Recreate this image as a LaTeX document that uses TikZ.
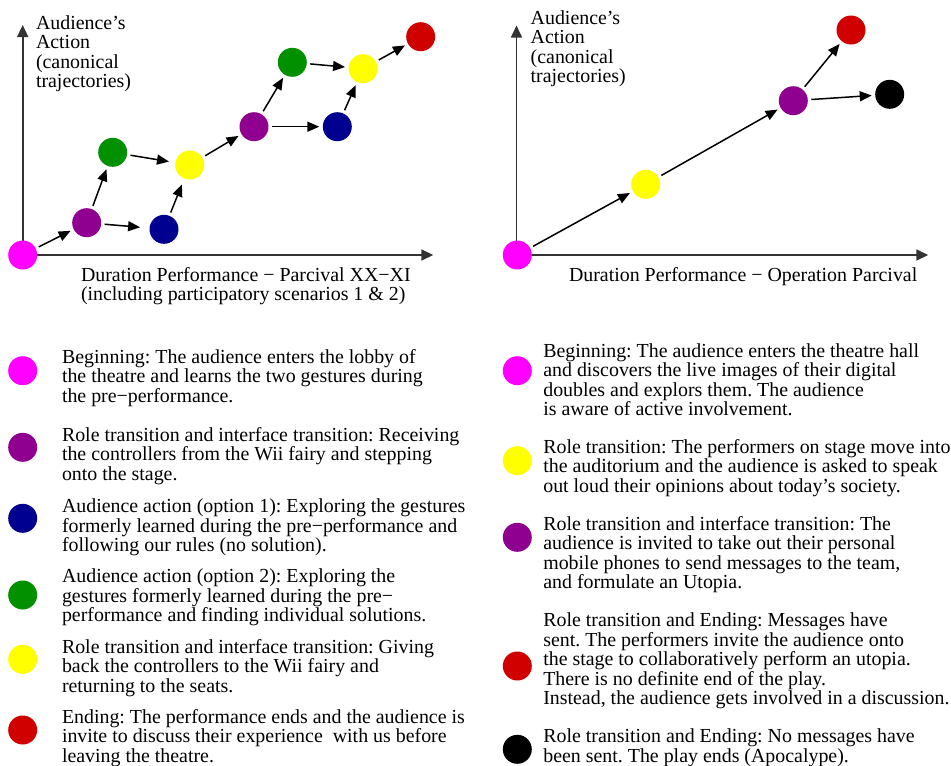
\documentclass[tikz,border=0pt]{standalone}
\usepackage{fontspec}
\setmainfont{Liberation Serif}
\usetikzlibrary{arrows.meta}
\frenchspacing

% fill colours of the stage markers
\definecolor{cMag}{RGB}{255,0,255}
\definecolor{cPur}{RGB}{144,0,144}
\definecolor{cBlu}{RGB}{0,0,144}
\definecolor{cGrn}{RGB}{0,144,0}
\definecolor{cYel}{RGB}{255,255,0}
\definecolor{cRed}{RGB}{208,0,0}

% a left-aligned block of lines whose reference point is the first baseline
\newcommand\txtlines[1]{\parbox[t]{430pt}{\lineskiplimit=-20pt\raggedright #1}}

\begin{document}
\begin{tikzpicture}[x=1pt,y=-1pt,
  dot/.style={circle, inner sep=0pt, minimum size=29pt, outer sep=3.5pt},
  conn/.style={-{Triangle[length=12pt,width=10pt]}, line width=1.5pt},
  axis/.style={-{Triangle[length=12pt,width=11pt]}, line width=1.6pt, black!80},
  lbl/.style={anchor=base west, inner sep=0pt, outer sep=0pt,
              font=\fontsize{19.9pt}{19.5pt}\selectfont}]
\useasboundingbox (0,0) rectangle (951,766);

% ---------- left chart: Parcival XX-XI ----------
\coordinate (LO) at (22.7,255);
\coordinate (LY) at (22.7,25);
\coordinate (LX) at (433.3,255);
\draw[axis] (LO) -- (LY);
\draw[axis] (LO) -- (LX);

\node[lbl] (lyl) at (36,29.3) {\txtlines{Audience’s\\Action\\(canonical\\trajectories)}};
\node[lbl] (lxl) at (81,281) {\txtlines{Duration Performance − Parcival XX−XI\\(including participatory scenarios 1 \& 2)}};

\node[dot, fill=cMag] (a0) at (22.7,255) {};
\node[dot, fill=cPur] (p1) at (86.7,222.7) {};
\node[dot, fill=cBlu] (b1) at (164,229.3) {};
\node[dot, fill=cGrn] (g1) at (112.7,152.3) {};
\node[dot, fill=cYel] (y1) at (189.7,165) {};
\node[dot, fill=cPur] (p2) at (254,126.7) {};
\node[dot, fill=cBlu] (b2) at (337.3,126.7) {};
\node[dot, fill=cGrn] (g2) at (292.3,62.3) {};
\node[dot, fill=cYel] (y2) at (363,68.7) {};
\node[dot, fill=cRed] (r1) at (420.7,36.7) {};

\draw[conn] (a0) -- (p1);
\draw[conn, shorten >=6pt] (p1) -- (b1);
\draw[conn] (p1) -- (g1);
\draw[conn, shorten >=3pt] (g1) -- (y1);
\draw[conn, shorten >=3pt] (b1) -- (y1);
\draw[conn] (y1) -- (p2);
\draw[conn] (p2) -- (b2);
\draw[conn] (p2) -- (g2);
\draw[conn] (g2) -- (y2);
\draw[conn] (b2) -- (y2);
\draw[conn] (y2) -- (r1);

% ---------- right chart: Operation Parcival ----------
\coordinate (RO) at (516.5,255);
\coordinate (RY) at (516.5,25.5);
\coordinate (RX) at (928.3,255);
\draw[axis] (RO) -- (RY);
\draw[axis] (RO) -- (RX);

\node[lbl] (ryl) at (530.7,24) {\txtlines{Audience’s\\Action\\(canonical\\trajectories)}};
\node[lbl] (rxl) at (569,281.5) {\txtlines{Duration Performance − Operation Parcival}};

\node[dot, fill=cMag] (c0) at (517.3,255) {};
\node[dot, fill=cYel] (c1) at (645.7,184.3) {};
\node[dot, fill=cPur] (c2) at (793.3,100.7) {};
\node[dot, fill=cRed] (c3) at (851,30) {};
\node[dot, fill=black] (c4) at (889.7,94.3) {};

\draw[conn] (c0) -- (c1);
\draw[conn] (c1) -- (c2);
\draw[conn] (c2) -- (c3);
\draw[conn] (c2) -- (c4);

% ---------- left legend ----------
\node[dot, fill=cMag] (lk1) at (22.7,370.7) {};
\node[dot, fill=cPur] (lk2) at (22.7,447.3) {};
\node[dot, fill=cBlu] (lk3) at (22.7,518.3) {};
\node[dot, fill=cGrn] (lk4) at (22.7,595) {};
\node[dot, fill=cYel] (lk5) at (22.7,659.3) {};
\node[dot, fill=cRed] (lk6) at (22.7,730) {};

\node[lbl] (lt1) at (62,363.3) {\txtlines{Beginning: The audience enters the lobby of\\the theatre and learns the two gestures during\\the pre−performance.}};
\node[lbl] (lt2) at (62,441) {\txtlines{Role transition and interface transition: Receiving\\the controllers from the Wii fairy and stepping\\onto the stage.}};
\node[lbl] (lt3) at (62,512.7) {\txtlines{Audience action (option 1): Exploring the gestures\\formerly learned during the pre−performance and\\following our rules (no solution).}};
\node[lbl] (lt4) at (62,582.7) {\txtlines{Audience action (option 2): Exploring the\\gestures formerly learned during the pre−\\performance and finding individual solutions.}};
\node[lbl] (lt5) at (62,653.3) {\txtlines{Role transition and interface transition: Giving\\back the controllers to the Wii fairy and\\returning to the seats.}};
\node[lbl] (lt6) at (62,723.3) {\txtlines{Ending: The performance ends and the audience is\\invite to discuss their experience~ with us before\\leaving the theatre.}};

% ---------- right legend ----------
\node[dot, fill=cMag] (rk1) at (517.3,370.7) {};
\node[dot, fill=cYel] (rk2) at (517.3,460.7) {};
\node[dot, fill=cPur] (rk3) at (517.3,537.3) {};
\node[dot, fill=cRed] (rk4) at (517.3,666) {};
\node[dot, fill=black] (rk5) at (517.3,749.3) {};

\node[lbl] (rt1) at (543.3,357.3) {\txtlines{Beginning: The audience enters the theatre hall\\and discovers the live images of their digital\\doubles and explors them. The audience\\is aware of active involvement.}};
\node[lbl] (rt2) at (543.3,453.3) {\txtlines{Role transition: The performers on stage move into\\the auditorium and the audience is asked to speak\\out loud their opinions about today’s society.}};
\node[lbl] (rt3) at (543.3,530) {\txtlines{Role transition and interface transition: The\\audience is invited to take out their personal\\mobile phones to send messages to the team,\\and formulate an Utopia.}};
\node[lbl] (rt4) at (543.3,626.7) {\txtlines{Role transition and Ending: Messages have\\sent. The performers invite the audience onto\\the stage to collaboratively perform an utopia.\\There is no definite end of the play.\\Instead, the audience gets involved in a discussion.}};
\node[lbl] (rt5) at (543.3,742.7) {\txtlines{Role transition and Ending: No messages have\\been sent. The play ends (Apocalype).}};
\end{tikzpicture}
\end{document}
